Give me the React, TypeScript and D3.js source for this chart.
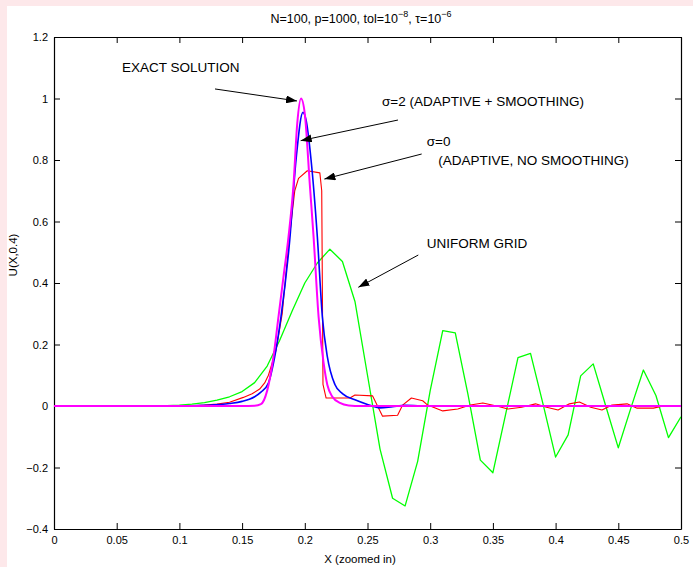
import React, { useEffect, useRef } from "react";
import * as d3 from "d3";

// tick values
const xTicks = [0, 0.05, 0.1, 0.15, 0.2, 0.25, 0.3, 0.35, 0.4, 0.45, 0.5];
const yTicks = [-0.4, -0.2, 0, 0.2, 0.4, 0.6, 0.8, 1, 1.2];

// exact solution (magenta)
const exact: [number, number][] = [
  [0, 0], [0.15, 0], [0.16, 0.001], [0.165, 0.006], [0.17, 0.05], [0.175, 0.16],
  [0.179, 0.29], [0.183, 0.42], [0.187, 0.55], [0.191, 0.72], [0.194, 0.92],
  [0.197, 1.0], [0.2, 0.95], [0.204, 0.72], [0.207, 0.55], [0.211, 0.29],
  [0.215, 0.14], [0.218, 0.068], [0.222, 0.03], [0.228, 0.01], [0.235, 0.002],
  [0.245, 0], [0.5, 0],
];

// sigma = 2, adaptive + smoothing (blue)
const smooth: [number, number][] = [
  [0, 0], [0.1, 0], [0.12, 0.002], [0.14, 0.008], [0.15, 0.015], [0.16, 0.03],
  [0.165, 0.045], [0.171, 0.075], [0.176, 0.16], [0.181, 0.29], [0.188, 0.54],
  [0.193, 0.8], [0.1985, 0.955], [0.201, 0.93], [0.205, 0.8], [0.21, 0.55],
  [0.214, 0.29], [0.218, 0.16], [0.224, 0.07], [0.23, 0.04], [0.24, 0.02],
  [0.25, 0.005], [0.26, -0.006], [0.27, -0.002], [0.28, 0.002], [0.3, 0], [0.5, 0],
];

// sigma = 0, adaptive, no smoothing (red)
const noSmooth: [number, number][] = [
  [0, 0], [0.1, 0], [0.11, 0.001], [0.12, 0.003], [0.13, 0.006], [0.14, 0.012],
  [0.151, 0.028], [0.158, 0.04], [0.164, 0.055], [0.168, 0.075], [0.171, 0.1],
  [0.177, 0.18], [0.182, 0.3], [0.1875, 0.54], [0.192, 0.7], [0.195, 0.74],
  [0.202, 0.765], [0.212, 0.758], [0.2135, 0.7],
  [0.2145, 0.07], [0.217, 0.026], [0.236, 0.026], [0.24, 0.036], [0.254, 0.033],
  [0.262, -0.033], [0.274, -0.03], [0.278, 0.003], [0.285, 0.026], [0.294, 0.017],
  [0.298, 0.003], [0.31, -0.016], [0.322, -0.01], [0.332, 0.003], [0.342, 0.01],
  [0.353, 0], [0.362, -0.01], [0.373, -0.004], [0.384, 0.007], [0.392, -0.003],
  [0.402, -0.013], [0.411, 0.007], [0.419, 0.013], [0.428, -0.004], [0.437, -0.013],
  [0.445, 0.003], [0.457, 0.007], [0.465, -0.007], [0.478, -0.007], [0.486, 0],
  [0.5, 0],
];

// uniform grid (green)
const uniform: [number, number][] = [
  [0, 0], [0.08, 0], [0.09, 0.001], [0.1, 0.003], [0.11, 0.006], [0.12, 0.011],
  [0.13, 0.019], [0.14, 0.03], [0.15, 0.047], [0.16, 0.076], [0.17, 0.13],
  [0.18, 0.214], [0.19, 0.31], [0.2, 0.4], [0.21, 0.465], [0.22, 0.51],
  [0.23, 0.47], [0.24, 0.34], [0.25, 0.1], [0.26, -0.14], [0.27, -0.3],
  [0.28, -0.325], [0.29, -0.18], [0.3, 0.05], [0.31, 0.245], [0.32, 0.238],
  [0.33, 0.04], [0.34, -0.176], [0.35, -0.217], [0.36, -0.03], [0.37, 0.157],
  [0.38, 0.171], [0.39, 0.006], [0.4, -0.166], [0.41, -0.094], [0.42, 0.098],
  [0.43, 0.137], [0.44, 0], [0.45, -0.136], [0.46, -0.007], [0.47, 0.117],
  [0.48, 0.034], [0.49, -0.103], [0.5, -0.035],
];

// annotation labels, in data units
const labels = [
  { text: "EXACT SOLUTION", x: 0.0542, y: 1.086 },
  { text: "\u03c3=2 (ADAPTIVE + SMOOTHING)", x: 0.2616, y: 0.975 },
  { text: "\u03c3=0", x: 0.2972, y: 0.847 },
  { text: "(ADAPTIVE, NO SMOOTHING)", x: 0.3065, y: 0.785 },
  { text: "UNIFORM GRID", x: 0.2972, y: 0.515 },
];

// arrows: [from x, from y, to x, to y]
const arrows = [
  [0.1284, 1.031, 0.1938, 0.992],
  [0.2743, 0.93, 0.1967, 0.863],
  [0.2932, 0.8195, 0.2156, 0.738],
  [0.2905, 0.491, 0.2427, 0.386],
];

const font = "'Liberation Sans', Arial, Helvetica, sans-serif";

const App = () => {
  const svgRef = useRef<SVGSVGElement>(null);

  useEffect(() => {
    const width = 693;
    const height = 567;
    const margin = { top: 37, right: 12, bottom: 38, left: 54 };

    const x = d3.scaleLinear()
      .domain([0, 0.5])
      .range([margin.left, width - margin.right]);
    const y = d3.scaleLinear()
      .domain([-0.4, 1.2])
      .range([height - margin.bottom, margin.top]);

    const svg = d3.select(svgRef.current);
    svg.selectAll("*").remove();

    svg.append("rect").attr("width", width).attr("height", height).attr("fill", "#fde8ea");
    svg.append("rect").attr("x", 7).attr("y", 6).attr("width", width - 7).attr("height", height - 6).attr("fill", "#fff");

    const defs = svg.append("defs");
    defs.append("clipPath").attr("id", "plot")
      .append("rect")
      .attr("x", margin.left).attr("y", margin.top)
      .attr("width", width - margin.left - margin.right)
      .attr("height", height - margin.top - margin.bottom);
    defs.append("marker")
      .attr("id", "head")
      .attr("markerUnits", "userSpaceOnUse")
      .attr("markerWidth", 11).attr("markerHeight", 8)
      .attr("refX", 11).attr("refY", 4)
      .attr("orient", "auto")
      .append("path").attr("d", "M0,0 L11,4 L0,8 Z").attr("fill", "#000");

    const fmt = (d: number) => d3.format("")(d).replace("-", "\u2212");

    const gx = svg.append("g")
      .attr("transform", `translate(0,${y(-0.4)})`)
      .call(d3.axisBottom(x).tickValues(xTicks).tickFormat((d) => fmt(+d)).tickSizeInner(-6).tickSizeOuter(0).tickPadding(7));
    const gxTop = svg.append("g")
      .attr("transform", `translate(0,${y(1.2)})`)
      .call(d3.axisTop(x).tickValues(xTicks).tickFormat(() => "").tickSizeInner(-6).tickSizeOuter(0));
    const gy = svg.append("g")
      .attr("transform", `translate(${x(0)},0)`)
      .call(d3.axisLeft(y).tickValues(yTicks).tickFormat((d) => fmt(+d)).tickSizeInner(-6).tickSizeOuter(0).tickPadding(6));
    const gyRight = svg.append("g")
      .attr("transform", `translate(${x(0.5)},0)`)
      .call(d3.axisRight(y).tickValues(yTicks).tickFormat(() => "").tickSizeInner(-6).tickSizeOuter(0));

    [gx, gxTop, gy, gyRight].forEach((g) => {
      g.selectAll("text").attr("font-family", font).attr("font-size", 11).attr("fill", "#000");
      g.selectAll("line").attr("stroke", "#000");
      g.select(".domain").attr("stroke", "#000").attr("stroke-width", 1.2);
    });

    const plot = svg.append("g").attr("clip-path", "url(#plot)");
    const straight = d3.line<[number, number]>().x((d) => x(d[0])).y((d) => y(d[1]));
    const curved = d3.line<[number, number]>().x((d) => x(d[0])).y((d) => y(d[1])).curve(d3.curveMonotoneX);

    const series = [
      { data: uniform, color: "#00ff00", w: 1.3, gen: straight },
      { data: noSmooth, color: "#ff0000", w: 1.1, gen: straight },
      { data: smooth, color: "#0000ff", w: 1.6, gen: curved },
      { data: exact, color: "#ff00ff", w: 2, gen: curved },
    ];
    series.forEach((s) => {
      plot.append("path")
        .attr("d", s.gen(s.data))
        .attr("fill", "none")
        .attr("stroke", s.color)
        .attr("stroke-width", s.w)
        .attr("stroke-linejoin", "round");
    });

    svg.selectAll(".arrow")
      .data(arrows)
      .join("line")
      .attr("class", "arrow")
      .attr("x1", (d) => x(d[0])).attr("y1", (d) => y(d[1]))
      .attr("x2", (d) => x(d[2])).attr("y2", (d) => y(d[3]))
      .attr("stroke", "#000").attr("stroke-width", 1)
      .attr("marker-end", "url(#head)");

    svg.selectAll(".note")
      .data(labels)
      .join("text")
      .attr("class", "note")
      .attr("x", (d) => x(d.x)).attr("y", (d) => y(d.y))
      .attr("font-family", font).attr("font-size", 13.5)
      .text((d) => d.text);

    svg.append("text")
      .attr("x", 360).attr("y", 563)
      .attr("text-anchor", "middle")
      .attr("font-family", font).attr("font-size", 11.5)
      .text("X (zoomed in)");

    svg.append("text")
      .attr("transform", `translate(17,255) rotate(-90)`)
      .attr("text-anchor", "middle")
      .attr("font-family", font).attr("font-size", 11.5)
      .text("U(X,0.4)");

    const title = svg.append("text")
      .attr("x", 361).attr("y", 23)
      .attr("text-anchor", "middle")
      .attr("font-family", font).attr("font-size", 12.5);
    title.append("tspan").text("N=100, p=1000, tol=10");
    title.append("tspan").attr("dy", -6).attr("font-size", 9).text("\u22128");
    title.append("tspan").attr("dy", 6).text(", \u03c4=10");
    title.append("tspan").attr("dy", -6).attr("font-size", 9).text("\u22126");
  }, []);

  return (
    <div style={{ position: "fixed", left: 0, top: 0 }}>
      <svg ref={svgRef} width={693} height={567} style={{ display: "block" }} />
    </div>
  );
};

export default App;
